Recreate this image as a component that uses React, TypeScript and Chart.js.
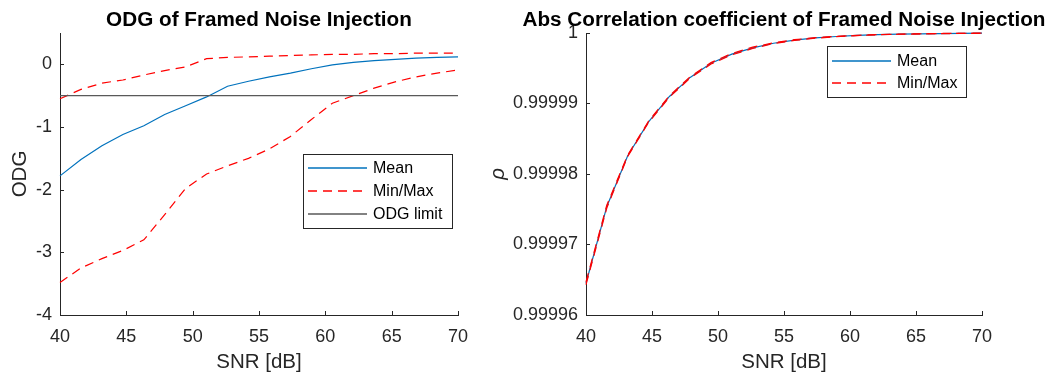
import React, { useEffect, useRef } from 'react';
import { Chart, registerables } from 'chart.js';

Chart.register(...registerables);

// ---------- data ----------
const SNR = [40, 41.58, 43.16, 44.74, 46.32, 47.89, 49.47, 51.05, 52.63, 54.21, 55.79, 57.37, 58.95, 60.53, 62.11, 63.68, 65.26, 66.84, 68.42, 70];

const ODG_MEAN = [-1.78, -1.52, -1.3, -1.12, -0.98, -0.8, -0.66, -0.52, -0.35, -0.27, -0.2, -0.14, -0.07, -0.01, 0.03, 0.06, 0.08, 0.1, 0.11, 0.12];
const ODG_MAX = [-0.55, -0.4, -0.3, -0.25, -0.17, -0.1, -0.04, 0.09, 0.11, 0.12, 0.13, 0.14, 0.15, 0.16, 0.16, 0.17, 0.17, 0.18, 0.18, 0.18];
const ODG_MIN = [-3.48, -3.25, -3.1, -2.97, -2.8, -2.4, -1.98, -1.75, -1.62, -1.5, -1.35, -1.15, -0.88, -0.62, -0.5, -0.38, -0.28, -0.2, -0.14, -0.09];
const ODG_LIMIT = -0.5;

const RHO_MEAN = [0.9999645, 0.9999754, 0.9999826, 0.9999874, 0.999991, 0.9999937, 0.9999957, 0.999997, 0.9999979, 0.99999855, 0.999999, 0.9999993, 0.9999995, 0.99999965, 0.99999976, 0.99999983, 0.99999988, 0.99999992, 0.99999995, 0.99999997];
const RHO_MIN = [0.9999643, 0.9999752, 0.9999825, 0.9999873, 0.9999909, 0.9999936, 0.9999956, 0.9999969, 0.9999978, 0.9999985, 0.99999895, 0.99999926, 0.99999948, 0.99999963, 0.99999975, 0.99999982, 0.99999987, 0.99999991, 0.99999994, 0.99999996];
const RHO_MAX = [0.9999647, 0.9999756, 0.9999827, 0.9999875, 0.9999911, 0.9999938, 0.9999958, 0.9999971, 0.999998, 0.9999986, 0.99999905, 0.99999934, 0.99999952, 0.99999967, 0.99999977, 0.99999984, 0.99999989, 0.99999993, 0.99999996, 0.99999998];

const X_TICKS = [40, 45, 50, 55, 60, 65, 70];
const ODG_TICKS = [-4, -3, -2, -1, 0];
const RHO_TICKS = [0.99996, 0.99997, 0.99998, 0.99999, 1];
const RHO_TICK_LABELS = ['0.99996', '0.99997', '0.99998', '0.99999', '1'];

const ODG_LEGEND = ['Mean', 'Min/Max', 'ODG limit'];
const RHO_LEGEND = ['Mean', 'Min/Max'];

// ---------- styles ----------
const FONT = '"Liberation Sans", Arial, Helvetica, sans-serif';
const AX = '#262626';
const BLUE = '#0072BD';
const RED = '#FF0000';
const GRAY = '#595959';
const DASH = [9, 6];

function pts(ys: number[]) {
  return SNR.map((x, i) => ({ x, y: ys[i] }));
}

type LegendItem = { label: string; color: string; dash?: number[] };
type DecorOpts = {
  title: string;
  xLabel: string;
  yLabel: string;
  yItalic?: boolean;
  yLabelX: number;
  legend: { x: number; y: number; w: number; h: number; lineX0: number; lineX1: number; textX: number; rows: number[]; items: LegendItem[] };
};

function decor(opts: DecorOpts) {
  return {
    id: 'decor',
    afterDraw(chart: any) {
      const ctx = chart.ctx as CanvasRenderingContext2D;
      const a = chart.chartArea;
      const xs = chart.scales.x;
      const ys = chart.scales.y;
      ctx.save();
      ctx.setLineDash([]);
      // inward tick marks
      ctx.fillStyle = AX;
      for (const t of xs.ticks) {
        const px = Math.round(xs.getPixelForValue(t.value));
        ctx.fillRect(px, Math.round(a.bottom) - 4, 1, 4);
      }
      for (const t of ys.ticks) {
        const py = Math.round(ys.getPixelForValue(t.value));
        ctx.fillRect(Math.round(a.left), py, 4, 1);
      }

      const cx = (a.left + a.right) / 2;
      // title
      ctx.fillStyle = '#000';
      ctx.font = `bold 20.7px ${FONT}`;
      ctx.textAlign = 'center';
      ctx.textBaseline = 'alphabetic';
      ctx.fillText(opts.title, cx, 26);
      // x label
      ctx.fillStyle = AX;
      ctx.font = `20.5px ${FONT}`;
      ctx.fillText(opts.xLabel, cx, 368);
      // y label
      ctx.save();
      ctx.translate(opts.yLabelX, (a.top + a.bottom) / 2);
      ctx.rotate(-Math.PI / 2);
      ctx.textBaseline = 'middle';
      ctx.font = `${opts.yItalic ? 'italic ' : ''}20.5px ${FONT}`;
      ctx.fillText(opts.yLabel, 0, 0);
      ctx.restore();

      // legend box
      const L = opts.legend;
      ctx.fillStyle = AX;
      ctx.fillRect(L.x, L.y, L.w + 1, L.h + 1);
      ctx.fillStyle = '#fff';
      ctx.fillRect(L.x + 1, L.y + 1, L.w - 1, L.h - 1);
      ctx.font = `16px ${FONT}`;
      ctx.textAlign = 'left';
      ctx.textBaseline = 'middle';
      L.items.forEach((it, i) => {
        const y = Math.round(L.rows[i]);
        ctx.strokeStyle = it.color;
        ctx.lineWidth = 1.6;
        ctx.setLineDash(it.dash || []);
        ctx.beginPath();
        ctx.moveTo(L.lineX0, y);
        ctx.lineTo(L.lineX1, y);
        ctx.stroke();
        ctx.setLineDash([]);
        ctx.fillStyle = '#000';
        ctx.fillText(it.label, L.textX, L.rows[i] + 1);
      });
      ctx.restore();
    },
  };
}

function scalesFor(yMin: number, yMax: number, yTicks: number[], yLabels: string[] | null, yWidth: number) {
  return {
    x: {
      type: 'linear' as const,
      min: 40,
      max: 70,
      afterBuildTicks: (s: any) => {
        s.ticks = X_TICKS.map((v) => ({ value: v }));
      },
      afterFit: (s: any) => {
        s.height = 61;
      },
      grid: { display: false, drawTicks: false },
      border: { display: true, color: AX, width: 1 },
      ticks: { color: AX, font: { family: FONT, size: 18 }, padding: 11, maxRotation: 0, autoSkip: false, callback: (v: any) => String(v) },
    },
    y: {
      type: 'linear' as const,
      min: yMin,
      max: yMax,
      afterBuildTicks: (s: any) => {
        s.ticks = yTicks.map((v) => ({ value: v }));
      },
      afterFit: (s: any) => {
        s.width = yWidth;
      },
      grid: { display: false, drawTicks: false },
      border: { display: true, color: AX, width: 1 },
      ticks: {
        color: AX,
        font: { family: FONT, size: 18 },
        padding: 8,
        autoSkip: false,
        callback: (v: any) => {
          if (yLabels) {
            const idx = yTicks.findIndex((t) => Math.abs(t - v) < 1e-9);
            return idx >= 0 ? yLabels[idx] : '';
          }
          return String(v);
        },
      },
    },
  };
}

function line(label: string, data: any[], color: string, dash: number[] | null, order: number) {
  return {
    label,
    data,
    borderColor: color,
    backgroundColor: color,
    borderWidth: 1.2,
    borderDash: dash || [],
    pointRadius: 0,
    tension: 0,
    fill: false,
    clip: false as const,
    order,
  };
}

export default function App() {
  const leftRef = useRef<HTMLCanvasElement>(null);
  const rightRef = useRef<HTMLCanvasElement>(null);

  useEffect(() => {
    const left = new Chart(leftRef.current!, {
      type: 'line',
      data: {
        datasets: [
          line('Mean', pts(ODG_MEAN), BLUE, null, 3),
          line('Min', pts(ODG_MIN), RED, DASH, 2),
          line('Max', pts(ODG_MAX), RED, DASH, 1),
          line('ODG limit', [{ x: SNR[0], y: ODG_LIMIT }, { x: SNR[SNR.length - 1], y: ODG_LIMIT }], GRAY, null, 0),
        ] as any,
      },
      options: {
        responsive: false,
        animation: false,
        devicePixelRatio: 1,
        layout: { padding: { left: 0, right: 60, top: 33, bottom: 0 } },
        plugins: { legend: { display: false }, title: { display: false }, tooltip: { enabled: false } },
        scales: scalesFor(-4, 0.5, ODG_TICKS, null, 60) as any,
      },
      plugins: [
        decor({
          title: 'ODG of Framed Noise Injection',
          xLabel: 'SNR [dB]',
          yLabel: 'ODG',
          yLabelX: 20.5,
          legend: {
            x: 303, y: 154, w: 149, h: 74,
            lineX0: 308, lineX1: 367, textX: 373,
            rows: [168, 191, 214],
            items: [
              { label: ODG_LEGEND[0], color: BLUE },
              { label: ODG_LEGEND[1], color: RED, dash: DASH },
              { label: ODG_LEGEND[2], color: GRAY },
            ],
          },
        }) as any,
      ],
    });

    const right = new Chart(rightRef.current!, {
      type: 'line',
      data: {
        datasets: [
          line('Mean', pts(RHO_MEAN), BLUE, null, 2),
          line('Min', pts(RHO_MIN), RED, DASH, 1),
          line('Max', pts(RHO_MAX), RED, DASH, 0),
        ] as any,
      },
      options: {
        responsive: false,
        animation: false,
        devicePixelRatio: 1,
        layout: { padding: { left: 0, right: 69, top: 33, bottom: 0 } },
        plugins: { legend: { display: false }, title: { display: false }, tooltip: { enabled: false } },
        scales: scalesFor(0.99996, 1, RHO_TICKS, RHO_TICK_LABELS, 116) as any,
      },
      plugins: [
        decor({
          title: 'Abs Correlation coefficient of Framed Noise Injection',
          xLabel: 'SNR [dB]',
          yLabel: 'ρ',
          yItalic: true,
          yLabelX: 28,
          legend: {
            x: 357, y: 46, w: 139, h: 51,
            lineX0: 362, lineX1: 421, textX: 427,
            rows: [61, 83],
            items: [
              { label: RHO_LEGEND[0], color: BLUE },
              { label: RHO_LEGEND[1], color: RED, dash: DASH },
            ],
          },
        }) as any,
      ],
    });

    return () => {
      left.destroy();
      right.destroy();
    };
  }, []);

  return (
    <div style={{ position: 'absolute', left: 0, top: 0, width: 1051, height: 376, background: '#fff', overflow: 'hidden' }}>
      <canvas ref={leftRef} width={518} height={376} style={{ position: 'absolute', left: 0, top: 0, width: 518, height: 376 }} />
      <canvas ref={rightRef} width={581} height={376} style={{ position: 'absolute', left: 470, top: 0, width: 581, height: 376 }} />
    </div>
  );
}
